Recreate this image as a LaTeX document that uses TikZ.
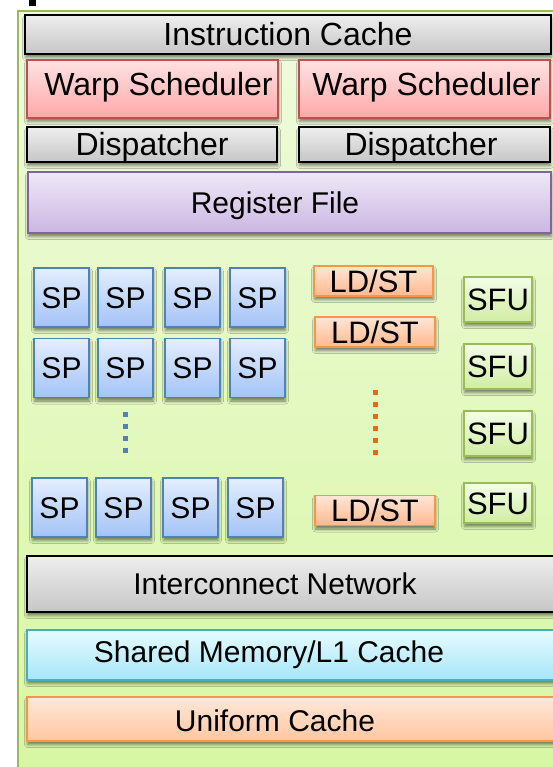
\documentclass[tikz,border=0pt]{standalone}
\usepackage{fontspec}
\setmainfont{Liberation Sans}
\usetikzlibrary{shadows.blur}

\definecolor{smborder}{HTML}{9BBB59}
\definecolor{smtop}{HTML}{F0FADE}
\definecolor{smbot}{HTML}{D6F7A0}
\definecolor{grtop}{HTML}{EEEEEE}
\definecolor{grbot}{HTML}{C6C6C6}
\definecolor{rdtop}{HTML}{FFE2E2}
\definecolor{rdbot}{HTML}{FFA8A8}
\definecolor{rdborder}{HTML}{C0504D}
\definecolor{putop}{HTML}{EEE8F7}
\definecolor{pubot}{HTML}{CBB6E2}
\definecolor{puborder}{HTML}{8064A2}
\definecolor{sptop}{HTML}{E4EEFF}
\definecolor{spbot}{HTML}{A3C3F6}
\definecolor{spborder}{HTML}{4F81BD}
\definecolor{ortop}{HTML}{FFE6D6}
\definecolor{orbot}{HTML}{FFB88E}
\definecolor{orborder}{HTML}{F79646}
\definecolor{gntop}{HTML}{F4FDE8}
\definecolor{gnbot}{HTML}{D0EDA2}
\definecolor{cytop}{HTML}{E6FBFF}
\definecolor{cybot}{HTML}{A6E6FA}
\definecolor{cyborder}{HTML}{4BACC6}
\definecolor{uctop}{HTML}{FFE8DA}
\definecolor{ucbot}{HTML}{FFC6A0}
\definecolor{lddots}{HTML}{E46C0A}

\tikzset{
  unit/.style={rectangle, inner sep=0pt, text height=23pt, text depth=0pt,
    font=\fontsize{32}{32}\selectfont, line width=1.8pt,
    blur shadow={shadow xshift=0.5pt, shadow yshift=-3.5pt,
      shadow blur radius=3pt, shadow opacity=50}},
  lbl/.style={inner sep=0pt, text height=23pt, text depth=0pt,
    font=\fontsize{32}{32}\selectfont},
  lblsm/.style={inner sep=0pt, text height=21.5pt, text depth=0pt,
    font=\fontsize{30}{30}\selectfont},
  graybox/.style={unit, draw=black, top color=grtop, bottom color=grbot},
  warpbox/.style={unit, draw=rdborder, top color=rdtop, bottom color=rdbot},
  regbox/.style={unit, draw=puborder, top color=putop, bottom color=pubot},
  spbox/.style={unit, draw=spborder, top color=sptop, bottom color=spbot,
    minimum width=55pt, minimum height=59pt, line width=1.5pt,
    font=\fontsize{30}{30}\selectfont, text height=21.5pt},
  ldbox/.style={unit, draw=orborder, top color=ortop, bottom color=orbot,
    minimum width=120pt, minimum height=30pt,
    font=\fontsize{31}{31}\selectfont, text height=22pt},
  sfubox/.style={unit, draw=smborder, top color=gntop, bottom color=gnbot,
    minimum width=68pt, line width=1.5pt,
    font=\fontsize{31}{31}\selectfont, text height=22pt},
  shmbox/.style={unit, draw=cyborder, top color=cytop, bottom color=cybot},
  unibox/.style={unit, draw=orborder, top color=uctop, bottom color=ucbot},
  dotline/.style={line width=5pt, dash pattern=on 5pt off 7pt},
}

\begin{document}
\begin{tikzpicture}[x=1pt, y=-1pt]
  \useasboundingbox (0,0) rectangle (553,767);
  \clip (0,0) rectangle (553,767);

  % streaming multiprocessor frame
  \fill[black] (29,0) rectangle (36,6);
  \draw[line width=2.5pt, draw=smborder, top color=smtop, bottom color=smbot]
    (18,11) rectangle (620,820);

  % front end
  \node[graybox, minimum width=526pt, minimum height=39pt] (icache) at (288,34.5) {Instruction Cache};
  \node[warpbox, minimum width=251pt, minimum height=58pt] (warpA) at (152.5,89) {};
  \node[lbl] (warpA-t) at ([xshift=6pt, yshift=5pt]warpA.center) {Warp Scheduler};
  \node[warpbox, minimum width=251pt, minimum height=58pt] (warpB) at (424.5,89) {};
  \node[lbl] (warpB-t) at ([xshift=2pt, yshift=5pt]warpB.center) {Warp Scheduler};
  \node[graybox, minimum width=250pt, minimum height=35pt] (dispA) at (152,144.5) {Dispatcher};
  \node[graybox, minimum width=251pt, minimum height=35pt] (dispB) at (424.5,144.5) {};
  \node[lbl] (dispB-t) at ([xshift=-3.5pt]dispB.center) {Dispatcher};
  \node[regbox, minimum width=523pt, minimum height=61pt] (regs) at (289.5,202.5) {};
  \node[lblsm] (regs-t) at (275,203) {Register File};

  % streaming processors
  \foreach \c/\x in {1/61.5, 2/125.5, 3/192.5, 4/257.5} {
    \node[spbox] (sp1\c) at (\x,297.5) {SP};
    \node[spbox] (sp2\c) at (\x,368) {SP};
  }
  \foreach \c/\x in {1/59.5, 2/123.5, 3/190.5, 4/255.5} {
    \node[spbox] (sp3\c) at (\x,507.5) {SP};
  }
  \coordinate (spdotA) at (125,411.5);
  \coordinate (spdotB) at (125,455);
  \draw[dotline, draw=spborder] (spdotA) -- (spdotB);

  % load/store units
  \node[ldbox, minimum width=119pt] (ld1) at (373.5,281) {LD/ST};
  \node[ldbox] (ld2) at (375,332) {LD/ST};
  \node[ldbox] (ld3) at (375,510.5) {LD/ST};
  \coordinate (lddotA) at (375,389.5);
  \coordinate (lddotB) at (375,457);
  \draw[dotline, draw=lddots] (lddotA) -- (lddotB);

  % special function units
  \node[sfubox, minimum height=45pt] (sfu1) at (498,299.5) {SFU};
  \node[sfubox, minimum height=45pt] (sfu2) at (498,366.5) {SFU};
  \node[sfubox, minimum height=45pt] (sfu3) at (498,433.5) {SFU};
  \node[sfubox, minimum height=40pt] (sfu4) at (498,503) {SFU};

  % memory side
  \node[graybox, minimum width=540pt, minimum height=56pt] (icn) at (297,584) {};
  \node[lblsm] (icn-t) at (275,584) {Interconnect Network};
  \node[shmbox, minimum width=540pt, minimum height=50pt] (shm) at (297,655) {};
  \node[lblsm] (shm-t) at (269,652) {Shared Memory/L1 Cache};
  \node[unibox, minimum width=540pt, minimum height=44pt] (ucache) at (297,719) {};
  \node[lblsm] (ucache-t) at (275,721) {Uniform Cache};
\end{tikzpicture}
\end{document}
